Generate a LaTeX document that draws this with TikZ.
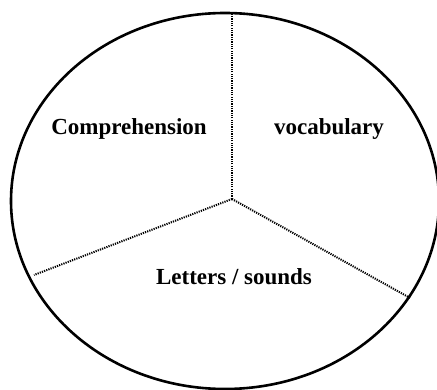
\documentclass[tikz,border=0pt]{standalone}
\usepackage{fontspec}
\setmainfont{Liberation Serif}
\usepackage{tikz}
\usetikzlibrary{positioning, calc}
\tikzset{
  piepart/.style={font=\fontsize{23}{27}\selectfont\bfseries, inner sep=0pt, anchor=base},
  outline/.style={draw=black, line width=2.6pt},
  divider/.style={draw=black, line width=2pt, dash pattern=on 1.2pt off 1.1pt}
}
\begin{document}
\begin{tikzpicture}[x=1pt, y=-1pt]
  \useasboundingbox (0,0) rectangle (437,390);

  % Outer ellipse
  \draw[outline] (225,201) ellipse [x radius=214, y radius=188];

  % Dividers
  \coordinate (hub) at (232,199);
  \coordinate (topend) at (232,14);
  \coordinate (leftend) at (34,275);
  \coordinate (rightend) at (410,298);
  \draw[divider] (hub) -- (topend);
  \draw[divider] (hub) -- (leftend);
  \draw[divider] (hub) -- (rightend);

  % Labels
  \node[piepart] (comp) at (129,135) {Comprehension};
  \node[piepart] (vocab) at (329,135) {vocabulary};
  \node[piepart] (letters) at (234,285) {Letters / sounds};
\end{tikzpicture}
\end{document}
